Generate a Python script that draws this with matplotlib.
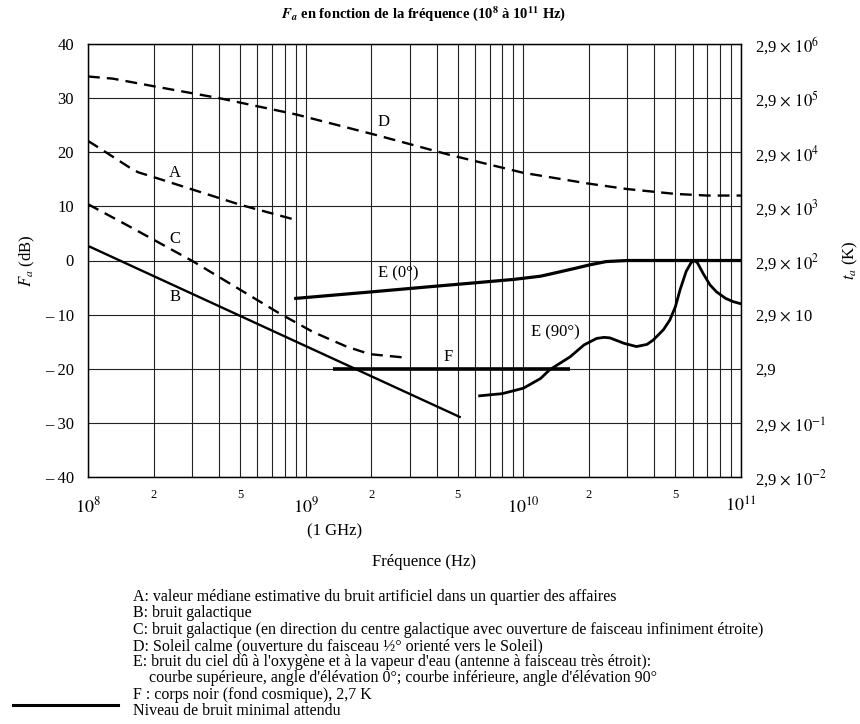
import numpy as np
import matplotlib
matplotlib.use("Agg")
import matplotlib.pyplot as plt

plt.rcParams['font.family'] = ['Liberation Serif', 'DejaVu Serif']
plt.rcParams['mathtext.fontset'] = 'stix'

# ---- data (frequency in Hz, Fa in dB) ----
d_f = [1e8, 1.3e8, 2e8, 4e8, 9e8, 2.1e9, 4.6e9, 1e10, 2e10, 3e10, 5e10, 7e10, 1e11]
d_db = [34, 33.6, 32.2, 30, 27, 23.2, 19.5, 16.2, 14.2, 13.2, 12.3, 12, 12]

a_f = [1e8, 1.135e8, 1.55e8, 1.7e8, 1.9e8, 5e8, 9e8]
a_db = [22.1, 20.7, 17.2, 16.3, 15.7, 10.3, 7.5]

c_f = [1e8, 1.5e8, 2.14e8, 3.05e8, 5e8, 7.6e8, 1.08e9, 1.54e9, 1.97e9, 2.8e9]
c_db = [10.4, 6.6, 3.2, -0.2, -5.4, -9.8, -13.2, -15.9, -17.3, -17.9]

b_f = [1e8, 5.1e9]
b_db = [2.7, -28.9]

f_f = [1.34e9, 1.64e10]
f_db = [-20, -20]

e0_f = [9e8, 2e9, 3.7e9, 5.7e9, 9e9, 1.2e10, 1.47e10, 1.75e10, 2.02e10, 2.4e10, 3e10, 1e11]
e0_db = [-7.0, -5.8, -4.85, -4.2, -3.5, -2.9, -2.1, -1.4, -0.8, -0.2, 0, 0]

e90_f = [6.3e9, 8e9, 1e10, 1.2e10, 1.32e10, 1.64e10, 1.9e10, 2.17e10, 2.35e10, 2.5e10, 2.9e10,
         3.31e10, 3.7e10, 3.95e10, 4.4e10, 4.71e10, 5.0e10, 5.24e10, 5.6e10, 5.9e10, 6.08e10,
         6.3e10, 6.5e10, 6.7e10, 7.2e10, 7.72e10, 8.5e10, 9.2e10, 1e11]
e90_db = [-25, -24.6, -23.6, -21.8, -20.2, -17.8, -15.6, -14.4, -14.2, -14.3, -15.3,
          -15.9, -15.5, -14.7, -12.8, -11, -8.5, -5.5, -2, -0.4, 0,
          -0.4, -1.4, -2.4, -4.5, -5.8, -7.0, -7.6, -8.0]

y_ticks = [40, 30, 20, 10, 0, -10, -20, -30, -40]
y_ticklabels = ['40', '30', '20', '10', '0', '\u2013 10', '\u2013 20', '\u2013 30', '\u2013 40']
right_labels = [r'2,9 $\times$ $10^{6}$', r'2,9 $\times$ $10^{5}$', r'2,9 $\times$ $10^{4}$',
                r'2,9 $\times$ $10^{3}$', r'2,9 $\times$ $10^{2}$', r'2,9 $\times$ 10',
                '2,9', r'2,9 $\times$ $10^{-1}$', r'2,9 $\times$ $10^{-2}$']
x_major = [1e8, 1e9, 1e10, 1e11]
x_major_labels = [r'$10^{8}$', r'$10^{9}$', r'$10^{10}$', r'$10^{11}$']

legend_lines = [
    "A: valeur médiane estimative du bruit artificiel dans un quartier des affaires",
    "B: bruit galactique",
    "C: bruit galactique (en direction du centre galactique avec ouverture de faisceau infiniment étroite)",
    "D: Soleil calme (ouverture du faisceau ½° orienté vers le Soleil)",
    "E: bruit du ciel dû à l'oxygène et à la vapeur d'eau (antenne à faisceau très étroit):",
    "    courbe supérieure, angle d'élévation 0°; courbe inférieure, angle d'élévation 90°",
    "F : corps noir (fond cosmique), 2,7 K",
    "Niveau de bruit minimal attendu",
]

W, H = 860, 724
fig = plt.figure(figsize=(W / 100, H / 100), dpi=100)
L, R, T, B = 88, 741, 44, 477
ax = fig.add_axes([L / W, 1 - B / H, (R - L) / W, (B - T) / H])
ax.set_xscale('log')
ax.set_xlim(1e8, 1e11)
ax.set_ylim(-40, 40)

# grid
minor = []
for dec in [1e8, 1e9, 1e10]:
    for m in range(2, 10):
        minor.append(m * dec)
for xv in minor + x_major:
    ax.axvline(xv, color='#222222', lw=0.8, zorder=1)
for yv in y_ticks:
    ax.axhline(yv, color='#222222', lw=0.8, zorder=1)

dash = (0, (5, 3))
lw = 1.7
ax.plot(d_f, d_db, color='black', lw=lw, ls=dash, zorder=3)
ax.plot(a_f, a_db, color='black', lw=lw, ls=dash, zorder=3)
ax.plot(c_f, c_db, color='black', lw=lw, ls=dash, zorder=3)
ax.plot(b_f, b_db, color='black', lw=lw, zorder=3)
ax.plot(f_f, f_db, color='black', lw=2.6, zorder=3, solid_capstyle='butt')
ax.plot(e0_f, e0_db, color='black', lw=2.3, zorder=3)
ax.plot(e90_f, e90_db, color='black', lw=2.0, zorder=3)

fs = 12
ax.text(2.27e9, 25.5, 'D', fontsize=fs, ha='center', va='center')
ax.text(2.5e8, 16.2, 'A', fontsize=fs, ha='center', va='center')
ax.text(2.5e8, 3.9, 'C', fontsize=fs, ha='center', va='center')
ax.text(2.5e8, -6.7, 'B', fontsize=fs, ha='center', va='center')
ax.text(2.65e9, -2.3, 'E (0°)', fontsize=fs, ha='center', va='center')
ax.text(1.4e10, -13.2, 'E (90°)', fontsize=fs, ha='center', va='center')
ax.text(4.5e9, -17.8, 'F', fontsize=fs, ha='center', va='center')

# axes ticks
ax.set_yticks(y_ticks)
ax.set_yticklabels(y_ticklabels, fontsize=12)
ax.set_xticks(x_major)
ax.set_xticklabels(x_major_labels, fontsize=13)
minor_labels = []
for xv in minor:
    m = round(xv / 10 ** np.floor(np.log10(xv)))
    minor_labels.append(str(m) if m in (2, 5) else '')
ax.set_xticks(minor, minor=True)
ax.set_xticklabels(minor_labels, minor=True, fontsize=9)
ax.tick_params(axis='x', which='major', length=0, pad=14)
ax.tick_params(axis='x', which='minor', length=0, pad=9)
ax.tick_params(axis='y', length=0, pad=10)
for sp in ax.spines.values():
    sp.set_linewidth(1.0)
ax.set_ylabel(r'$F_a$ (dB)', fontsize=12, labelpad=6)

ax2 = ax.twinx()
ax2.set_ylim(-40, 40)
ax2.set_yticks(y_ticks)
ax2.set_yticklabels(right_labels, fontsize=12)
ax2.tick_params(axis='y', length=0, pad=10)
ax2.set_ylabel(r'$t_a$ (K)', fontsize=12, labelpad=10)

fig.text(335 / W, 1 - 531 / H, '(1 GHz)', fontsize=12, ha='center', va='center')
fig.text(424 / W, 1 - 562 / H, 'Fréquence (Hz)', fontsize=12, ha='center', va='center')
fig.text(424 / W, 1 - 14 / H,
         r'$\mathbfit{F}_{\mathbfit{a}}$ en fonction de la fréquence (10$^{\mathbf{8}}$ à 10$^{\mathbf{11}}$ Hz)',
         fontsize=10.5, fontweight='bold', ha='center', va='center')

y0, dy = 597, 16.3
for i, t in enumerate(legend_lines):
    fig.text(133 / W, 1 - (y0 + i * dy) / H, t, fontsize=11.5, ha='left', va='center')
yl = y0 + 7 * dy - 6
fig.add_artist(matplotlib.lines.Line2D([13 / W, 118 / W], [1 - yl / H, 1 - yl / H],
                                       color='black', lw=2.2, transform=fig.transFigure))

fig.savefig('out.png', dpi=100)
